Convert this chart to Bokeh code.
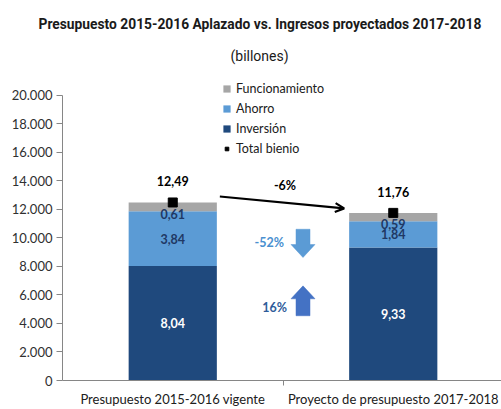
from bokeh.plotting import figure
from bokeh.models import (Range1d, FixedTicker, Legend, LegendItem, Label, Arrow,
                          OpenHead, ColumnDataSource, Title)
from bokeh.core.properties import value
from bokeh.embed import file_html
from bokeh.resources import INLINE

# ---- data ----
categories = ["Presupuesto 2015-2016 vigente", "Proyecto de presupuesto 2017-2018"]
inversion = [8.04, 9.33]
ahorro = [3.84, 1.84]
funcionamiento = [0.61, 0.59]
total_bienio = [12.49, 11.76]
y_ticks = [0, 2000, 4000, 6000, 8000, 10000, 12000, 14000, 16000, 18000, 20000]
y_tick_labels = ["0", "2.000", "4.000", "6.000", "8.000", "10.000", "12.000",
                 "14.000", "16.000", "18.000", "20.000"]
change_total = "-6%"
change_ahorro = "-52%"
change_inversion = "16%"
title_text = "Presupuesto 2015-2016 Aplazado vs. Ingresos proyectados 2017-2018"
subtitle_text = "(billones)"

def fmt(v):
    return f"{v:.2f}".replace(".", ",")

xs = [i + 0.5 for i in range(len(categories))]
inv_top = [v * 1000 for v in inversion]
aho_top = [(a + b) * 1000 for a, b in zip(inversion, ahorro)]
fun_top = [(a + b + c) * 1000 for a, b, c in zip(inversion, ahorro, funcionamiento)]
tot = [v * 1000 for v in total_bienio]

W, H = 501, 409
LEFT, TOP, BOTTOM = 62, 75, 28
FW = W - LEFT          # frame width px
FH = H - TOP - BOTTOM  # frame height px
PX = 220.5             # px per x unit
YPX = 286 / 20000      # px per y unit

p = figure(width=W, height=H, output_backend="svg", toolbar_location=None,
           x_range=Range1d(0, FW / PX), y_range=Range1d(0, FH / YPX),
           min_border_left=LEFT, min_border_right=0, min_border_top=TOP,
           min_border_bottom=BOTTOM)
p.outline_line_color = None
p.xgrid.grid_line_color = None
p.ygrid.grid_line_color = None
p.background_fill_color = "white"
p.border_fill_color = "white"

src = ColumnDataSource(dict(x=xs, inv=inv_top, aho=aho_top, fun=fun_top, tot=tot,
                            zero=[0] * len(xs)))
r_inv = p.vbar(x="x", width=0.4, bottom="zero", top="inv", source=src,
               fill_color="#1F497D", line_color=None)
r_aho = p.vbar(x="x", width=0.4, bottom="inv", top="aho", source=src,
               fill_color="#5B9BD5", line_color=None)
r_fun = p.vbar(x="x", width=0.4, bottom="aho", top="fun", source=src,
               fill_color="#A6A6A6", line_color=None)
r_tot = p.scatter(x="x", y="tot", source=src, marker="square", size=9,
                  fill_color="black", line_color="black")

# value labels
lab = ColumnDataSource(dict(
    x=xs,
    inv_mid=[v / 2 for v in inv_top],
    aho_mid=[(a + b) / 2 for a, b in zip(inv_top, aho_top)],
    aho_top=aho_top,
    tot=tot,
    inv_t=[fmt(v) for v in inversion],
    aho_t=[fmt(v) for v in ahorro],
    fun_t=[fmt(v) for v in funcionamiento],
    tot_t=[fmt(v) for v in total_bienio],
))
common = dict(x="x", source=lab, text_align="center", text_baseline="middle",
              text_font_size="12.5px", text_font_style="bold", text_font=value("Lato"))
p.text(y="inv_mid", text="inv_t", text_color="white", **common)
p.text(y="aho_mid", text="aho_t", text_color="#1F3864", **common)
p.text(y="aho_top", text="fun_t", text_color="#1F3864", y_offset=3, **common)
p.text(y="tot", text="tot_t", text_color="black", y_offset=-21, **common)

# -6% arrow between totals
x0 = xs[0] + 0.2 + 3 / PX
x1 = xs[1] - 0.2 - 5 / PX
y0 = tot[0] + 6 / YPX
y1 = tot[1] + 4.5 / YPX
p.add_layout(Arrow(end=OpenHead(size=9, line_width=2.2, line_color="black"),
                   x_start=x0, y_start=y0, x_end=x1, y_end=y1,
                   line_width=2.2, line_color="black"))
p.add_layout(Label(x=(x0 + x1) / 2 + 3 / PX, y=y0 + 11 / YPX, text=change_total,
                   text_align="center", text_baseline="middle",
                   text_font="Lato", text_font_style="bold",
                   text_font_size="12.5px", text_color="black"))

# block arrows
ax = 1 + 20 / PX
def block_arrow(cx, ytop, ybot, up, color):
    sw = 7 / PX
    hw = 12 / PX
    hh = 13 / YPX
    if up:
        hy = ytop - hh
        xsx = [cx - sw, cx - sw, cx - hw, cx, cx + hw, cx + sw, cx + sw]
        ysy = [ybot, hy, hy, ytop, hy, hy, ybot]
    else:
        hy = ybot + hh
        xsx = [cx - sw, cx - sw, cx - hw, cx, cx + hw, cx + sw, cx + sw]
        ysy = [ytop, hy, hy, ybot, hy, hy, ytop]
    p.patch(xsx, ysy, fill_color=color, line_color=color, line_width=0.5)

block_arrow(ax, aho_top[1] - 8 / YPX, inv_top[1] - 10 / YPX, False, "#5B9BD5")
block_arrow(ax, inv_top[0] - 20 / YPX, inv_top[0] - 50 / YPX, True, "#4472C4")
p.add_layout(Label(x=ax - 19 / PX, y=aho_top[1] - 21 / YPX, text=change_ahorro,
                   text_align="right", text_baseline="middle",
                   text_font="Lato", text_font_style="bold",
                   text_font_size="12.5px", text_color="#4A90D0"))
p.add_layout(Label(x=ax - 16 / PX, y=inv_top[0] - 42 / YPX, text=change_inversion,
                   text_align="right", text_baseline="middle",
                   text_font="Lato", text_font_style="bold",
                   text_font_size="12.5px", text_color="#2E5C9A"))

# axes
p.yaxis.ticker = FixedTicker(ticks=y_ticks)
p.yaxis.bounds = (0, 20000)
p.yaxis.major_label_overrides = {t: l for t, l in zip(y_ticks, y_tick_labels)}
p.yaxis.axis_line_color = "#868686"
p.yaxis.major_tick_line_color = "#868686"
p.yaxis.major_tick_out = 6
p.yaxis.major_tick_in = 0
p.yaxis.minor_tick_line_color = None
p.yaxis.major_label_text_font = "Lato"
p.yaxis.major_label_text_font_size = "13px"
p.yaxis.major_label_text_color = "#303030"
p.yaxis.major_label_standoff = 4

p.xaxis.ticker = FixedTicker(ticks=xs, minor_ticks=[1.0])
p.xaxis.major_label_overrides = {x: c for x, c in zip(xs, categories)}
p.xaxis.axis_line_color = "#868686"
p.xaxis.major_tick_line_color = None
p.xaxis.major_tick_out = 0
p.xaxis.major_tick_in = 0
p.xaxis.minor_tick_line_color = "#868686"
p.xaxis.minor_tick_out = 5
p.xaxis.minor_tick_in = 0
p.xaxis.major_label_text_font = "Lato"
p.xaxis.major_label_text_font_size = "13px"
p.xaxis.major_label_text_color = "#202020"
p.xaxis.major_label_standoff = 5

# legend
legend = Legend(items=[
    LegendItem(label="Funcionamiento", renderers=[r_fun]),
    LegendItem(label="Ahorro", renderers=[r_aho]),
    LegendItem(label="Inversión", renderers=[r_inv]),
    LegendItem(label="Total bienio", renderers=[r_tot]),
], location=(160, 222), orientation="vertical",
    glyph_width=9, glyph_height=9, label_height=20, spacing=0,
    label_standoff=5, padding=0, margin=0, border_line_color=None,
    background_fill_alpha=0, label_text_font="Lato",
    label_text_font_size="12.5px", label_text_color="#202020")
p.add_layout(legend, "center")

# titles (subtitle first: closest to the frame)
p.add_layout(Title(text=subtitle_text, align="left", offset=168,
                   vertical_align="middle", standoff=22,
                   text_font="Roboto", text_font_style="normal",
                   text_font_size="14px", text_color="#1a1a1a"), "above")
p.add_layout(Title(text=title_text, align="left", offset=-24,
                   vertical_align="middle", standoff=6,
                   text_font="Roboto", text_font_style="bold",
                   text_font_size="13.8px", text_color="#1a1a1a"), "above")

open("out.html", "w").write(file_html(p, INLINE))
